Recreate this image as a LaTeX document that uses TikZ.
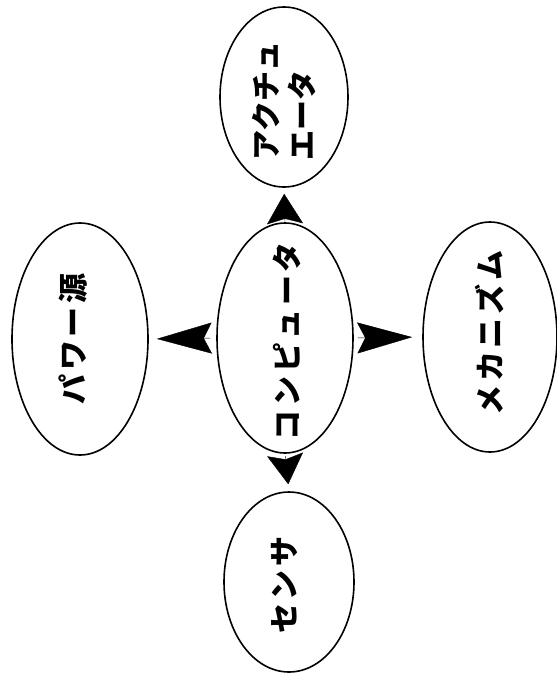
\documentclass[tikz,border=0pt]{standalone}
\usepackage{fontspec}
\newfontfamily\jp{Noto Sans CJK JP}
\usetikzlibrary{shapes.geometric,arrows.meta}
\tikzset{
  oval/.style={ellipse, draw=black, line width=1.6pt, inner sep=0pt},
  jtxt/.style={rotate=90, inner sep=0pt, font=\jp\bfseries\fontsize{30pt}{36pt}\selectfont},
  spaced/.style={font=\jp\bfseries\fontsize{30pt}{36pt}\selectfont\addfontfeature{LetterSpace=12}},
  vhead/.style={line width=0.4pt, -{Stealth[length=30pt, width=36pt, inset=5pt]}},
  hhead/.style={line width=0.4pt, -{Stealth[length=55pt, width=31pt, inset=8pt]}}
}
\begin{document}
\begin{tikzpicture}[x=1pt, y=-1pt]
\useasboundingbox (0,0) rectangle (557,675);
% ellipses
\node[oval, minimum width=136pt, minimum height=230pt] (c) at (285,338) {};
\node[oval, minimum width=128pt, minimum height=180pt] (act) at (284,97) {};
\node[oval, minimum width=130pt, minimum height=180pt] (sen) at (289,582) {};
\node[oval, minimum width=136pt, minimum height=232pt] (pow) at (80,339) {};
\node[oval, minimum width=134pt, minimum height=230pt] (mech) at (490,337) {};
% texts
\node[jtxt, spaced] (ct) at (287,341) {コンピュータ};
\node[jtxt, align=left] (at) at (284,101) {アクチュ\\エータ};
\node[jtxt, spaced] (st) at (285,585) {センサ};
\node[jtxt, spaced] (pt) at (73,339) {パワー源};
\node[jtxt, spaced] (mt) at (490,333) {メカニズム};
% arrowheads
\draw[vhead, shorten >=6pt] (c.north) -- (act.south);
\draw[vhead, shorten <=2pt, shorten >=7pt] (c.south) -- (sen.north);
\draw[hhead, shorten <=6pt, shorten >=8pt] (c.west) -- (pow.east);
\draw[hhead, shorten <=4pt, shorten >=10pt] (c.east) -- (mech.west);
\end{tikzpicture}
\end{document}
